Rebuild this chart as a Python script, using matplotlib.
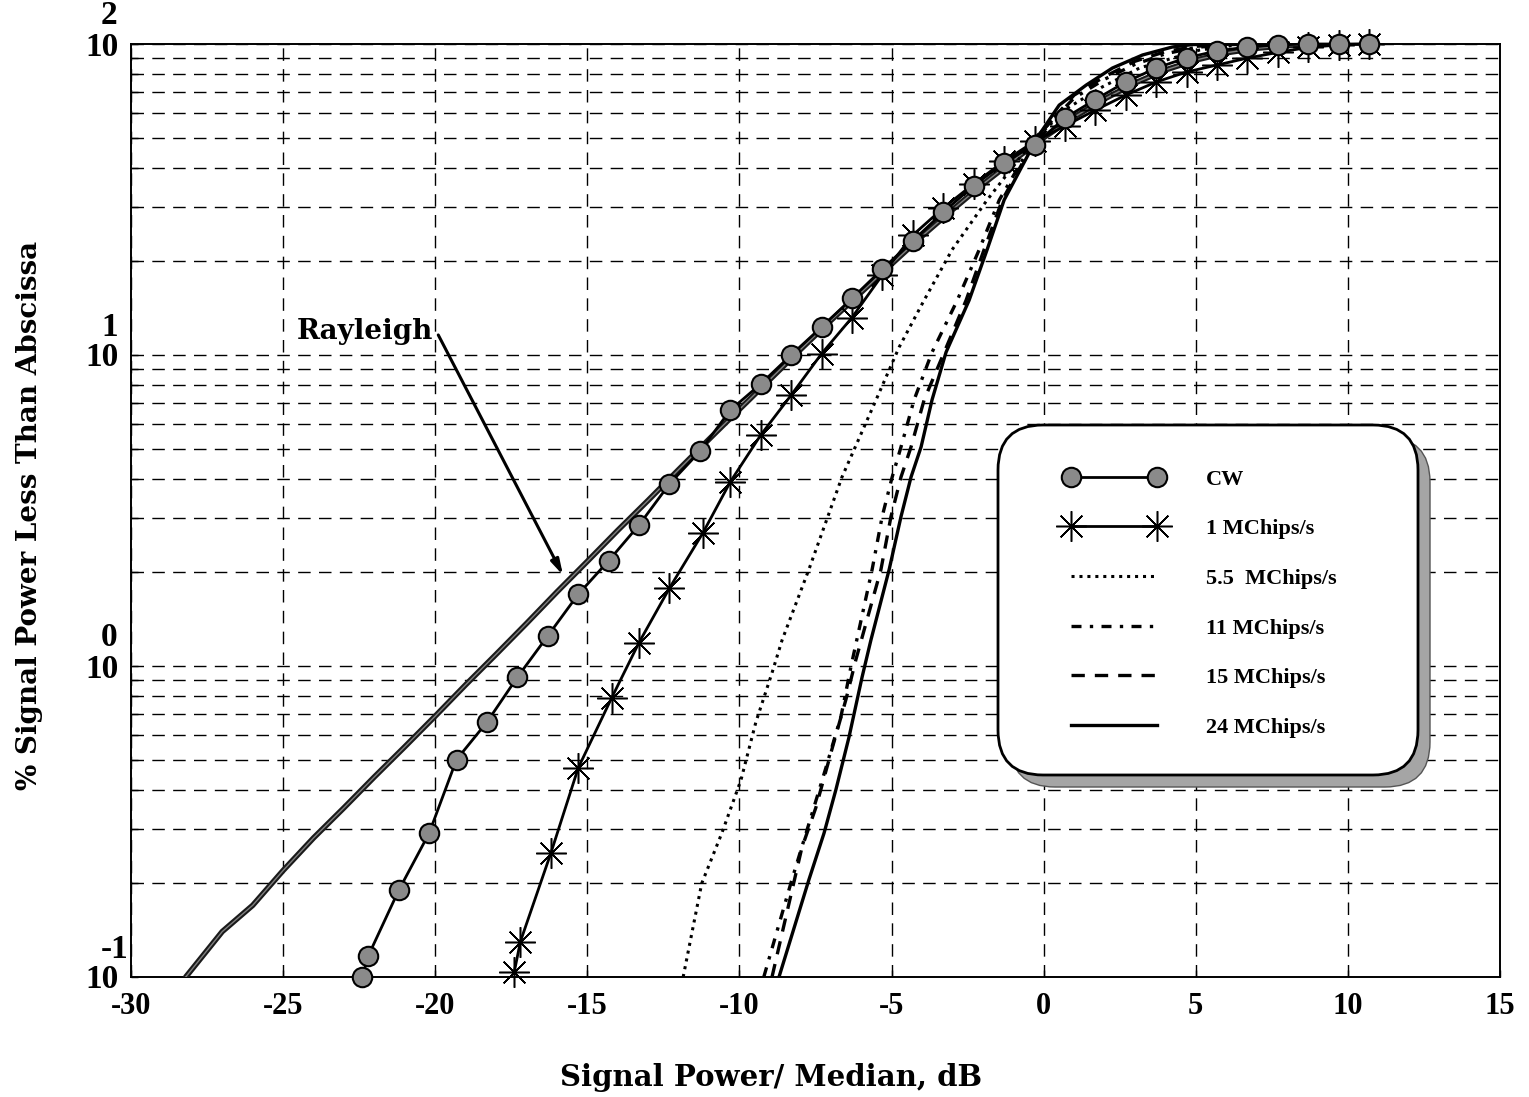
import matplotlib
matplotlib.use("Agg")
import matplotlib.pyplot as plt
from matplotlib.patches import FancyBboxPatch
from matplotlib.ticker import LogLocator, NullFormatter, FixedLocator

# ---------------- data ----------------
rayleigh_x = [-28.2, -27, -26, -25, -24, -23, -22, -21, -20, -19, -18, -17, -16, -15,
              -14, -13, -12, -11, -10, -9, -8, -7, -6, -5, -4, -3, -2, -1, 0,
              1, 2, 3, 4, 5, 6, 7, 8, 9, 10]
rayleigh_y = [0.10, 0.14, 0.17, 0.22, 0.28, 0.35, 0.44, 0.55, 0.69, 0.87, 1.09, 1.37, 1.73, 2.17,
              2.73, 3.41, 4.28, 5.36, 6.69, 8.34, 10.4, 12.9, 15.9, 19.6, 24.1, 29.3, 35.4, 42.2, 50.0,
              58.2, 66.6, 74.9, 82.5, 88.8, 93.7, 96.9, 98.8, 99.6, 99.9]

cw_x = [-22.4, -22.2, -21.2, -20.2, -19.3, -18.3, -17.3, -16.3, -15.3, -14.3, -13.3, -12.3,
        -11.3, -10.3, -9.3, -8.3, -7.3, -6.3, -5.3, -4.3, -3.3, -2.3, -1.3, -0.3,
        0.7, 1.7, 2.7, 3.7, 4.7, 5.7, 6.7, 7.7, 8.7, 9.7, 10.7]
cw_y = [0.10, 0.117, 0.19, 0.29, 0.50, 0.66, 0.92, 1.25, 1.70, 2.18, 2.84, 3.85,
        4.9, 6.65, 8.07, 10.0, 12.3, 15.2, 18.9, 23.3, 28.8, 35.0, 41.5, 47.5,
        57.8, 66.3, 75.5, 83.7, 90.3, 95.0, 97.8, 99.3, 100, 100, 100]

m1_x = [-17.4, -17.2, -16.2, -15.3, -14.2, -13.3, -12.3, -11.2, -10.3, -9.3, -8.3, -7.3,
        -6.3, -5.3, -4.3, -3.3, -2.3, -1.3, -0.3, 0.7, 1.7, 2.7, 3.7, 4.7, 5.7, 6.7,
        7.7, 8.7, 9.7, 10.7]
m1_y = [0.104, 0.13, 0.25, 0.47, 0.79, 1.19, 1.78, 2.68, 3.91, 5.53, 7.43, 10.1,
        13.2, 18.1, 24.3, 29.7, 35.5, 42.0, 48.6, 54.5, 61.3, 68.5, 75.5, 81.3, 85.6, 90.1,
        94.0, 97.5, 99.5, 100]

m55_x = [-11.85, -11.24, -10.58, -9.95, -9.46, -8.93, -8.60, -7.72, -6.63, -5.51, -4.75,
         -3.93, -3.01, -1.86, -0.3, 0.84, 1.93, 3.15, 5.12, 6.34, 8.0]
m55_y = [0.10, 0.20, 0.29, 0.43, 0.66, 0.95, 1.21, 2.04, 4.05, 7.17, 10.6,
         15.0, 21.8, 31.5, 49.5, 62.7, 72.8, 83.7, 95.6, 99.3, 100]

m11_x = [-9.20, -8.28, -7.81, -7.16, -6.66, -6.33, -5.64, -5.31, -4.98, -4.69, -4.26,
         -3.67, -2.84, -2.12, -1.46, -0.27, 1.0, 2.0, 3.0, 4.0, 5.0, 6.0, 7.0]
m11_y = [0.10, 0.205, 0.29, 0.47, 0.69, 1.0, 2.04, 3.02, 4.05, 5.06, 7.17,
         10.2, 15.0, 21.8, 31.5, 50.0, 67.0, 77.0, 86.0, 93.0, 97.5, 99.5, 100]

m15_x = [-8.93, -7.95, -7.49, -6.96, -6.50, -6.17, -5.35, -5.02, -4.69, -4.36, -3.93,
         -3.27, -2.55, -1.96, -1.36, -0.24, 1.0, 2.0, 3.0, 4.0, 5.0, 6.0, 7.0]
m15_y = [0.10, 0.26, 0.35, 0.54, 0.78, 1.05, 2.04, 3.02, 4.05, 5.06, 7.17,
         10.2, 15.0, 21.8, 31.5, 50.0, 68.5, 78.5, 88.0, 94.5, 98.3, 99.8, 100]

m24_x = [-8.70, -7.72, -7.22, -6.83, -6.40, -5.97, -5.68, -5.08, -4.69, -4.36, -4.03,
         -3.67, -3.21, -2.45, -1.86, -1.3, -0.21, 0.51, 1.40, 2.26, 3.25, 4.23, 4.9, 6.0]
m24_y = [0.10, 0.205, 0.29, 0.40, 0.59, 0.92, 1.21, 2.04, 3.02, 4.05, 5.06,
         7.17, 10.2, 15.0, 21.8, 31.5, 50.0, 63.6, 73.8, 83.7, 92.2, 97.8, 99.6, 100]

x_ticks = [-30, -25, -20, -15, -10, -5, 0, 5, 10, 15]
y_decades = [0.1, 1, 10, 100]
y_exponents = ["-1", "0", "1", "2"]

legend_labels = ["CW", "1 MChips/s", "5.5  MChips/s", "11 MChips/s", "15 MChips/s", "24 MChips/s"]
xlabel = "Signal Power/ Median, dB"
ylabel = "% Signal Power Less Than Abscissa"
annot_text = "Rayleigh"

# ---------------- figure ----------------
W, H = 1529, 1097
fig = plt.figure(figsize=(W / 100, H / 100), dpi=100)
fig.patch.set_facecolor("white")
L, R, T, B = 131, 1500, 44, 977
ax = fig.add_axes([L / W, 1 - B / H, (R - L) / W, (B - T) / H])
ax.set_xlim(-30, 15)
ax.set_yscale("log")
ax.set_ylim(0.1, 100)

tick_font = dict(family="Liberation Serif", weight="bold", size=22)
ytick_font = dict(family="Liberation Serif", weight="bold", size=24)
xlabel_font = dict(family="DejaVu Serif", weight="bold", size=21)
ylabel_font = dict(family="DejaVu Serif", weight="bold", size=20)

# grid
ax.xaxis.set_major_locator(FixedLocator(x_ticks))
ax.yaxis.set_major_locator(LogLocator(base=10, numticks=10))
ax.yaxis.set_minor_locator(LogLocator(base=10, subs=range(2, 10), numticks=30))
ax.yaxis.set_minor_formatter(NullFormatter())
ax.set_yticklabels([])
ax.grid(True, which="major", axis="x", color="black", linestyle=(0, (9, 6)), linewidth=1.0)
ax.grid(True, which="both", axis="y", color="black", linestyle=(0, (9, 6)), linewidth=1.0)
ax.tick_params(axis="both", which="both", direction="in", length=5, width=1)
ax.tick_params(axis="x", pad=11)
ax.set_xticklabels([str(t) for t in x_ticks], fontdict=tick_font)
ax.tick_params(axis="y", which="major", labelleft=False)
for s in ax.spines.values():
    s.set_linewidth(1.4)

# y tick labels "10" with exponent
for v, e in zip(y_decades, y_exponents):
    ax.annotate("10", xy=(0, v), xycoords=("axes fraction", "data"), xytext=(-12, -3),
                textcoords="offset pixels", ha="right", va="center", **ytick_font)
    ax.annotate(e, xy=(0, v), xycoords=("axes fraction", "data"), xytext=(-30, 28),
                textcoords="offset pixels", ha="left", va="center", **ytick_font)

# curves
ax.plot(rayleigh_x, rayleigh_y, color="#1a1a1a", lw=4.0, solid_capstyle="round", zorder=3)
ax.plot(rayleigh_x, rayleigh_y, color="#808080", lw=1.0, zorder=3.1)

l_cw, = ax.plot(cw_x, cw_y, color="black", lw=2.0, marker="o", markersize=14,
                markerfacecolor="#8a8a8a", markeredgecolor="black", markeredgewidth=1.5,
                zorder=5, clip_on=False)
l_1, = ax.plot(m1_x, m1_y, color="black", lw=2.0, marker=(8, 2, 0), markersize=22,
               markeredgecolor="black", markeredgewidth=1.1, zorder=4, clip_on=False)
l_55, = ax.plot(m55_x, m55_y, color="black", lw=2.2, linestyle=(0, (1, 1.6)), zorder=4)
l_11, = ax.plot(m11_x, m11_y, color="black", lw=2.4, linestyle=(0, (3, 2.5, 1, 2.5)), zorder=4)
l_15, = ax.plot(m15_x, m15_y, color="black", lw=2.4, linestyle=(0, (4, 3)), zorder=4)
l_24, = ax.plot(m24_x, m24_y, color="black", lw=2.4, zorder=4)

# Rayleigh annotation
ax.text(-22.3, 11.9, annot_text, ha="center", va="center", fontfamily="DejaVu Serif",
        fontweight="bold", fontsize=20, zorder=6)
ax.annotate("", xy=(-15.8, 1.96), xytext=(-19.9, 11.6),
            arrowprops=dict(arrowstyle="-|>,head_length=0.9,head_width=0.25", color="black", lw=2.2,
                            shrinkA=0, shrinkB=0), zorder=6)

# axis labels
fig.text(771 / W, 1 - 1077 / H, xlabel, ha="center", va="center", **xlabel_font)
fig.text(30 / W, 1 - 515 / H, ylabel, ha="center", va="center", rotation=90, **ylabel_font)

# legend box with shadow
bx0, by0, bx1, by1 = 998, 425, 1418, 775
sh = 12
rad = 45
asp = W / H
shadow = FancyBboxPatch(((bx0 + sh) / W, 1 - (by1 + sh) / H), (bx1 - bx0) / W, (by1 - by0) / H,
                        boxstyle=f"round,pad=0,rounding_size={rad / W}", mutation_aspect=asp,
                        transform=fig.transFigure, facecolor="#a5a5a5", edgecolor="#555555",
                        lw=1.0, zorder=7)
box = FancyBboxPatch((bx0 / W, 1 - by1 / H), (bx1 - bx0) / W, (by1 - by0) / H,
                     boxstyle=f"round,pad=0,rounding_size={rad / W}", mutation_aspect=asp,
                     transform=fig.transFigure, facecolor="white", edgecolor="black",
                     lw=2.0, zorder=8)
fig.patches.extend([shadow, box])

leg = fig.legend([l_cw, l_1, l_55, l_11, l_15, l_24], legend_labels,
                 loc="upper left", bbox_to_anchor=(1064 / W, 1 - 469 / H),
                 frameon=False, numpoints=2, handlelength=4.5, handletextpad=1.9,
                 labelspacing=1.31, borderpad=0, borderaxespad=0,
                 prop=dict(family="Liberation Serif", weight="bold", size=16))
leg.set_zorder(10)

fig.savefig("out.png", dpi=100, facecolor="white")
